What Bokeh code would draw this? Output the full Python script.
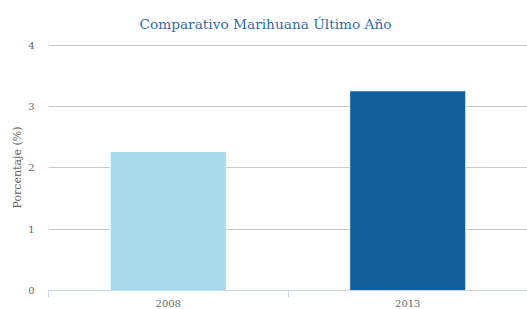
from bokeh.plotting import figure
from bokeh.models import Range1d, FixedTicker, ColumnDataSource
from bokeh.embed import file_html
from bokeh.resources import INLINE

categories = ["2008", "2013"]
values = [2.27, 3.26]
colors = ["#a8daea", "#135e99"]
y_ticks = [0, 1, 2, 3, 4]

centers = [i + 0.5 for i in range(len(categories))]
src = ColumnDataSource(dict(x=centers, top=values, color=colors))

FONT = "DejaVu Serif"

p = figure(width=527, height=309, output_backend="svg", toolbar_location=None,
           x_range=Range1d(0, len(categories)), y_range=Range1d(0, 4.015))
p.min_border_left = 48
p.min_border_right = 0
p.min_border_top = 43
p.min_border_bottom = 18
p.outline_line_color = None
p.background_fill_color = "white"

p.vbar(x="x", top="top", bottom=0, width=0.485, source=src,
       fill_color="color", line_color="white", line_width=1)

p.title.text = "Comparativo Marihuana Último Año"
p.title.text_font = FONT
p.title.text_font_size = "13.7px"
p.title.text_font_style = "normal"
p.title.text_color = "#2f6ea8"
p.title.align = "left"
p.title.offset = 91
p.title.standoff = 26

xa = p.xaxis[0]
xa.ticker = FixedTicker(ticks=centers, minor_ticks=list(range(len(categories) + 1)))
xa.major_label_overrides = {c: lab for c, lab in zip(centers, categories)}
xa.major_tick_line_color = None
xa.major_tick_out = 0
xa.major_tick_in = 0
xa.minor_tick_line_color = "#ccd6eb"
xa.minor_tick_out = 7
xa.minor_tick_in = 0
xa.axis_line_color = "#ccd6eb"
xa.major_label_text_font = FONT
xa.major_label_text_font_size = "10px"
xa.major_label_text_color = "#666666"
xa.major_label_standoff = 2

ya = p.yaxis[0]
ya.ticker = FixedTicker(ticks=y_ticks)
ya.axis_line_color = None
ya.major_tick_line_color = None
ya.minor_tick_line_color = None
ya.major_label_text_font = FONT
ya.major_label_text_font_size = "10px"
ya.major_label_text_color = "#666666"
ya.major_label_standoff = 8
ya.axis_label = "Porcentaje (%)"
ya.axis_label_text_font = FONT
ya.axis_label_text_font_size = "11px"
ya.axis_label_text_font_style = "normal"
ya.axis_label_text_color = "#666666"
ya.axis_label_standoff = 1

p.xgrid.grid_line_color = None
p.ygrid.grid_line_color = "#c8c8c8"
p.ygrid.ticker = FixedTicker(ticks=y_ticks)

open("out.html", "w").write(file_html(p, INLINE))
